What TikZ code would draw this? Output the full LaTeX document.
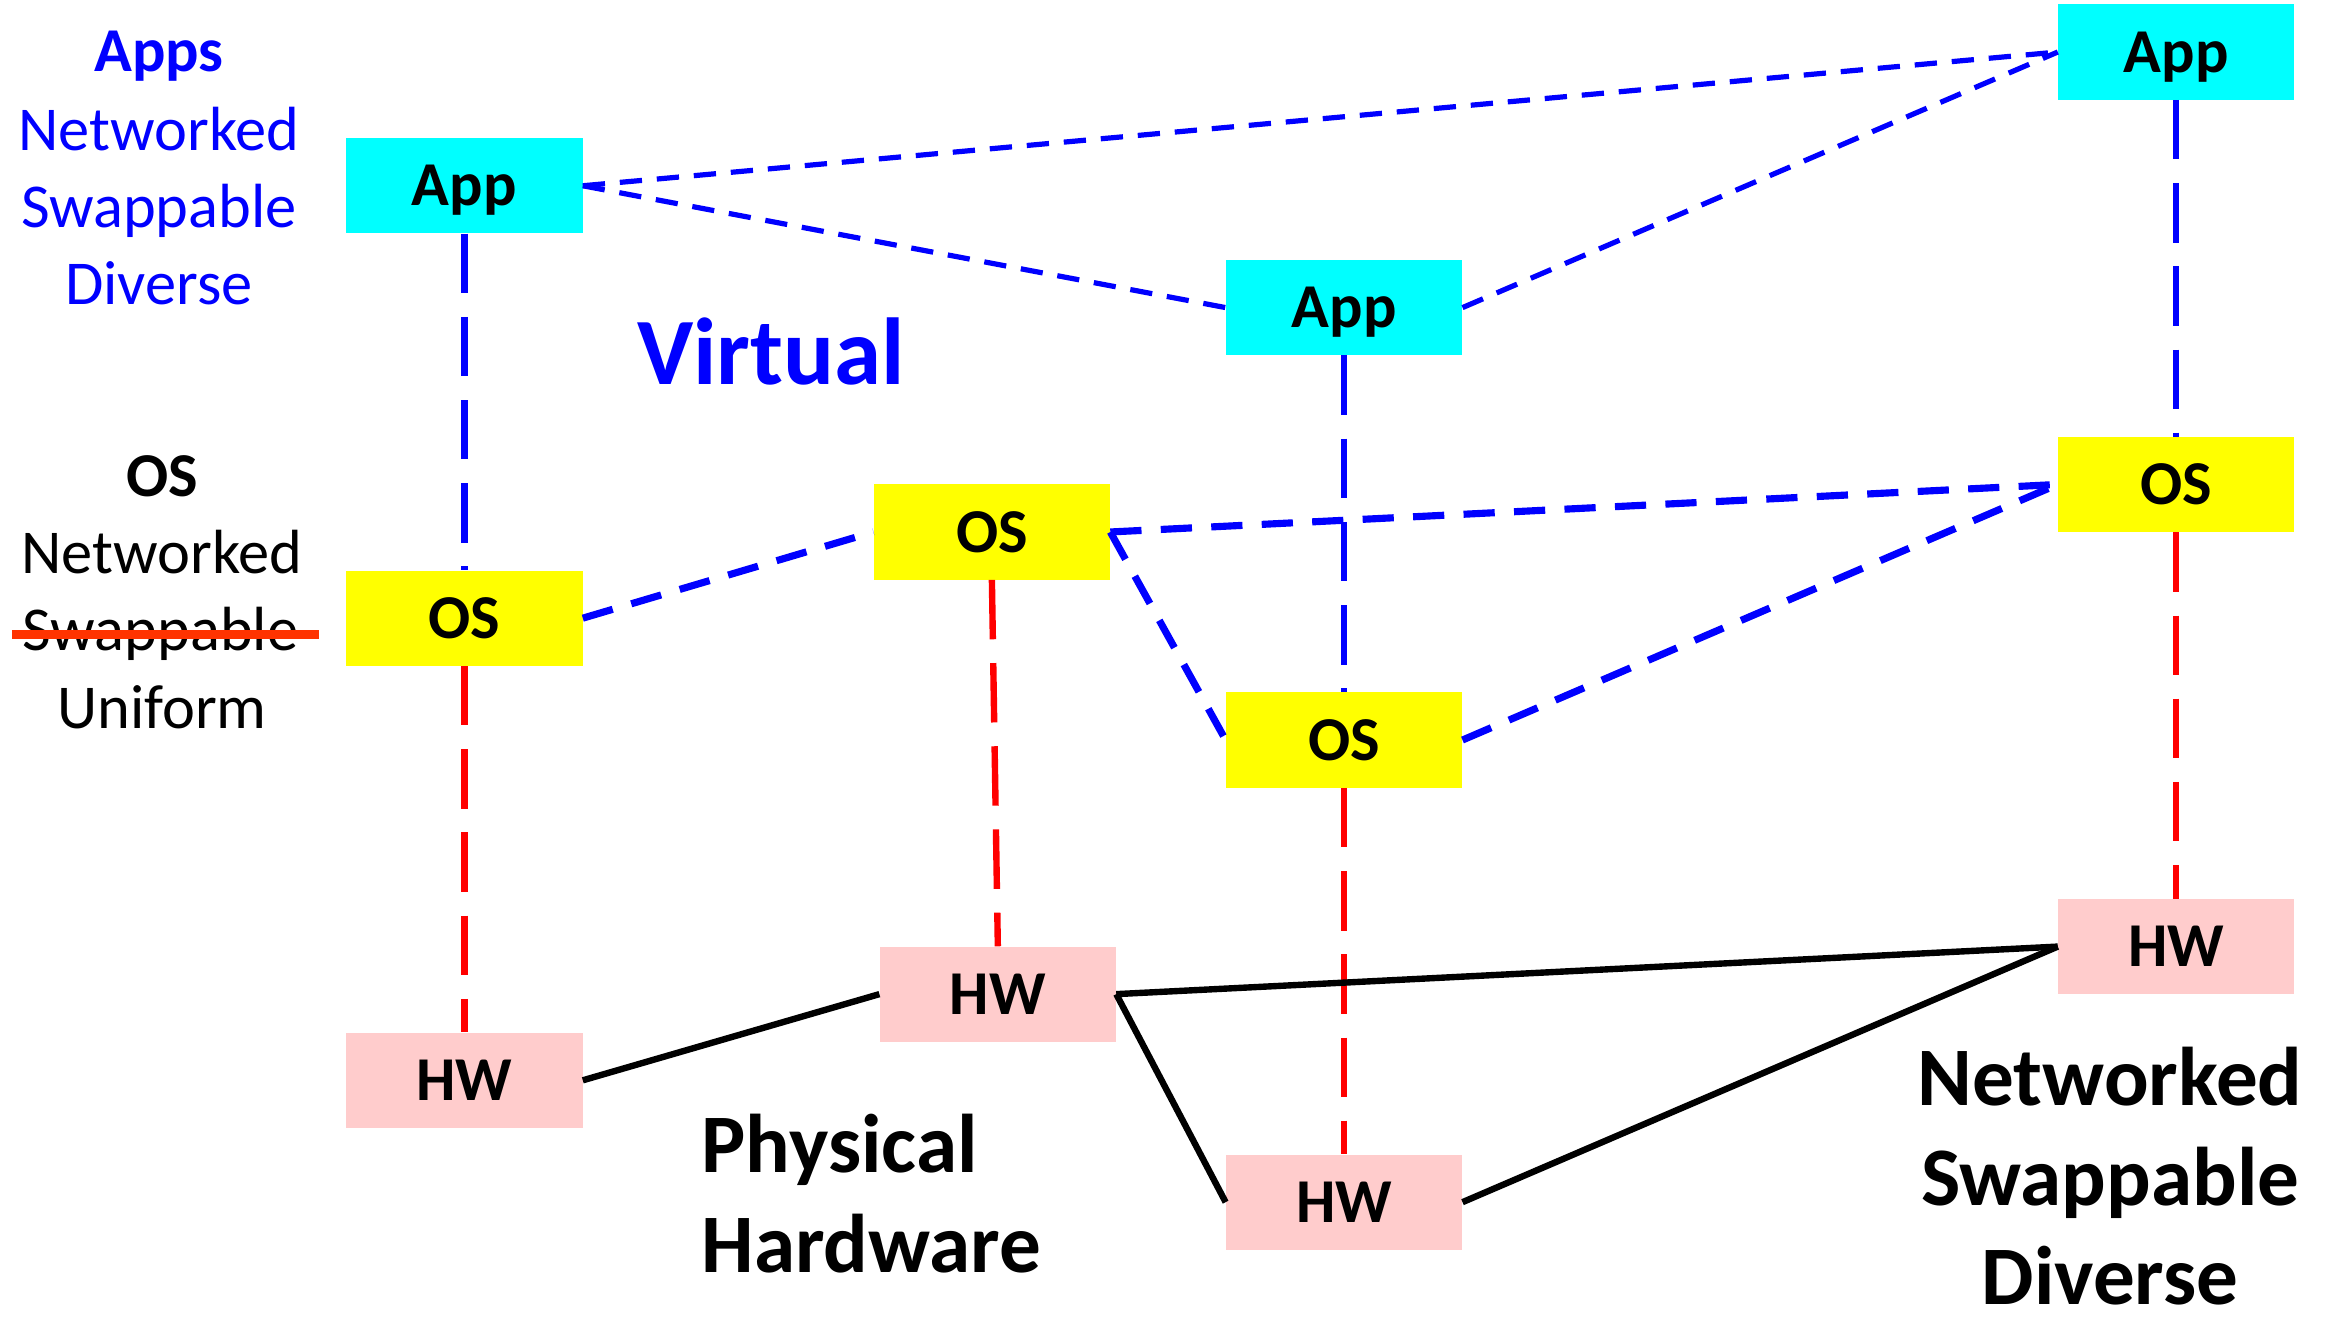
\documentclass[tikz,border=0pt]{standalone}
\usepackage{fontspec}
\setmainfont{Carlito}
\definecolor{appc}{HTML}{00FFFF}
\definecolor{osc}{HTML}{FFFF00}
\definecolor{hwc}{HTML}{FFCCCC}
\definecolor{lblue}{HTML}{0000FF}
\definecolor{lred}{HTML}{FF0000}
\definecolor{strikec}{HTML}{FF3300}
\begin{document}
\begin{tikzpicture}[x=1pt,y=-1pt,
  box/.style={minimum width=159pt,minimum height=64pt,inner sep=0pt,text depth=0pt,
    font=\fontsize{42}{50}\selectfont\bfseries},
  appbox/.style={box,fill=appc},
  osbox/.style={box,fill=osc},
  hwbox/.style={box,fill=hwc},
  applink/.style={draw=lblue,line width=3.5pt,dash pattern=on 15pt off 10pt},
  oslink/.style={draw=lblue,line width=4.8pt,dash pattern=on 21pt off 13pt},
  vblue/.style={draw=lblue,line width=4.3pt,dash pattern=on 40pt off 16pt},
  vred/.style={draw=lred,line width=4.3pt,dash pattern=on 40pt off 16pt},
  hwlink/.style={draw=black,line width=4.3pt},
  small/.style={inner sep=0pt,anchor=base,font=\fontsize{42}{50}\selectfont},
  smallb/.style={small,font=\fontsize{42}{50}\selectfont\bfseries},
  big/.style={inner sep=0pt,anchor=base,font=\fontsize{56}{68}\selectfont\bfseries}
]
\useasboundingbox (0,0) rectangle (1568,892);

% boxes
\node[appbox] (app1) at (312.5,125) {App};
\node[appbox] (app2) at (904.5,207) {App};
\node[appbox] (app3) at (1464.5,35) {App};
\node[osbox] (os1) at (312.5,416) {OS};
\node[osbox] (os2) at (667.5,358) {OS};
\node[osbox] (os3) at (904.5,498) {OS};
\node[osbox] (os4) at (1464.5,326) {OS};
\node[hwbox] (hw1) at (312.5,727) {HW};
\node[hwbox] (hw2) at (671.5,669) {HW};
\node[hwbox] (hw3) at (904.5,809) {HW};
\node[hwbox] (hw4) at (1464.5,637) {HW};

% app links
\draw[applink] (app1.east) -- (app3.west);
\draw[applink] (app1.east) -- (app2.west);
\draw[applink] (app2.east) -- (app3.west);

% os links
\draw[oslink] (os1.east) -- (os2.west);
\draw[oslink] (os2.east) -- (os4.west);
\draw[oslink] (os2.east) -- (os3.west);
\draw[oslink] (os3.east) -- (os4.west);

% vertical links
\draw[vblue] (app1.south) -- (os1.north);
\draw[vblue] (app2.south) -- (os3.north);
\draw[vblue] (app3.south) -- (os4.north);
\draw[vred] (os1.south) -- (hw1.north);
\draw[vred] (os2.south) -- (hw2.north);
\draw[vred] (os3.south) -- (hw3.north);
\draw[vred] (os4.south) -- (hw4.north);

% hardware links
\draw[hwlink] (hw1.east) -- (hw2.west);
\draw[hwlink] (hw2.east) -- (hw4.west);
\draw[hwlink] (hw2.east) -- (hw3.west);
\draw[hwlink] (hw3.east) -- (hw4.west);

% left labels (apps)
\node[smallb,text=lblue] (la1) at (107,48) {Apps};
\node[small,text=lblue] (la2) at (107,101) {Networked};
\node[small,text=lblue] (la3) at (107,153) {Swappable};
\node[small,text=lblue] (la4) at (107,205) {Diverse};

% left labels (os)
\node[smallb] (lo1) at (109,334) {OS};
\node[small] (lo2) at (109,386) {Networked};
\node[small] (lo3) at (108,438) {Swappable};
\node[small] (lo4) at (109,490) {Uniform};
\coordinate (stA) at (8,427);
\coordinate (stB) at (215,427);
\draw[strikec,line width=6pt] (stA) -- (stB);

% Virtual
\node[inner sep=0pt,anchor=base,text=lblue,font=\fontsize{64}{76}\selectfont\bfseries] (virt) at (519,259) {Virtual};

% Physical Hardware
\node[big,anchor=base west] (ph1) at (472,789) {Physical};
\node[big,anchor=base west] (ph2) at (472,856) {Hardware};

% right labels
\node[big] (r1) at (1420,744) {Networked};
\node[big] (r2) at (1420,811) {Swappable};
\node[big] (r3) at (1420,878) {Diverse};
\end{tikzpicture}
\end{document}
